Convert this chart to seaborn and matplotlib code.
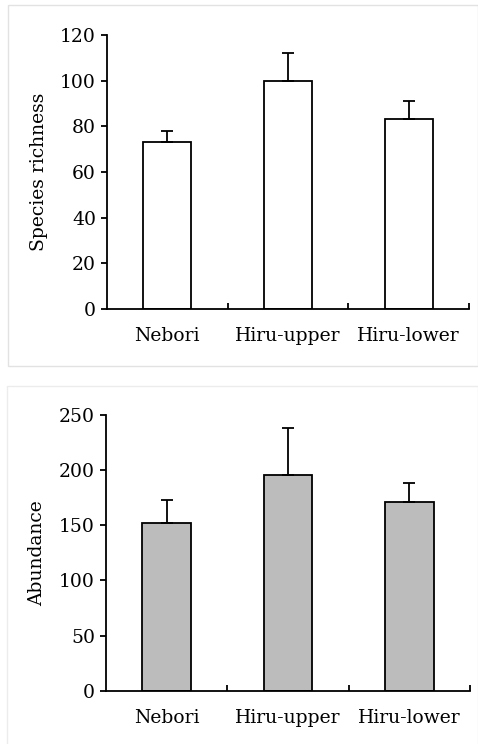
import matplotlib
matplotlib.use("Agg")
import matplotlib.pyplot as plt
from matplotlib.patches import Rectangle
import seaborn as sns
import pandas as pd
import numpy as np

sites = ["Nebori", "Hiru-upper", "Hiru-lower"]
richness = [73, 100, 83]
richness_se = [5, 12, 8]
abundance = [152, 195, 171]
abundance_se = [21, 43, 17]
richness_ticks = [0, 20, 40, 60, 80, 100, 120]
abundance_ticks = [0, 50, 100, 150, 200, 250]

sns.set_style("ticks")
plt.rcParams["font.family"] = ["DejaVu Serif"]
plt.rcParams["text.color"] = "black"
plt.rcParams["axes.labelcolor"] = "black"
plt.rcParams["xtick.color"] = "black"
plt.rcParams["ytick.color"] = "black"

W, H = 478, 744
fig = plt.figure(figsize=(W / 100, H / 100), dpi=100)

# panel frames
fig.patches.append(Rectangle((8 / W, 1 - 366 / H), (W - 8) / W, (366 - 5) / H,
                             transform=fig.transFigure, fill=False,
                             edgecolor="#e2e2e2", linewidth=1.0))
fig.patches.append(Rectangle((7 / W, 1 - 760 / H), (W - 7) / W, (760 - 386) / H,
                             transform=fig.transFigure, fill=False,
                             edgecolor="#ececec", linewidth=1.0))


def panel(rect, values, errs, ticks, ylabel, color):
    ax = fig.add_axes(rect)
    df = pd.DataFrame({"site": sites, "value": values})
    sns.barplot(data=df, x="site", y="value", ax=ax, color=color,
                width=0.4, edgecolor="black", linewidth=1.3,
                saturation=1, errorbar=None)
    for p in ax.patches:
        p.set_facecolor(color)
    x = np.arange(len(sites))
    ax.errorbar(x, values, yerr=[np.zeros(len(values)), errs], fmt="none",
                ecolor="black", elinewidth=1.3, capsize=4, capthick=1.3,
                zorder=1)
    ax.set_xlim(-0.5, 2.5)
    ax.set_ylim(ticks[0], ticks[-1])
    ax.set_yticks(ticks)
    ax.set_xticks(x)
    ax.set_xticks([0.5, 1.5, 2.5], minor=True)
    ax.tick_params(axis="x", which="major", length=0, pad=13, labelsize=13.5)
    ax.tick_params(axis="x", which="minor", direction="in", length=4, width=1.3)
    ax.tick_params(axis="y", direction="out", length=4, width=1.3,
                   labelsize=13.5, pad=4)
    ax.set_xlabel("")
    ax.set_ylabel(ylabel, fontsize=13.5, labelpad=9)
    sns.despine(ax=ax, top=True, right=True)
    for s in ["left", "bottom"]:
        ax.spines[s].set_linewidth(1.3)
        ax.spines[s].set_color("black")
    return ax


panel([107 / W, 1 - 309 / H, (469 - 107) / W, (309 - 35) / H],
      richness, richness_se, richness_ticks, "Species richness", "white")
panel([106 / W, 1 - 691 / H, (470 - 106) / W, (691 - 414.7) / H],
      abundance, abundance_se, abundance_ticks, "Abundance", "#bcbcbc")

fig.savefig("out.png", dpi=100)
